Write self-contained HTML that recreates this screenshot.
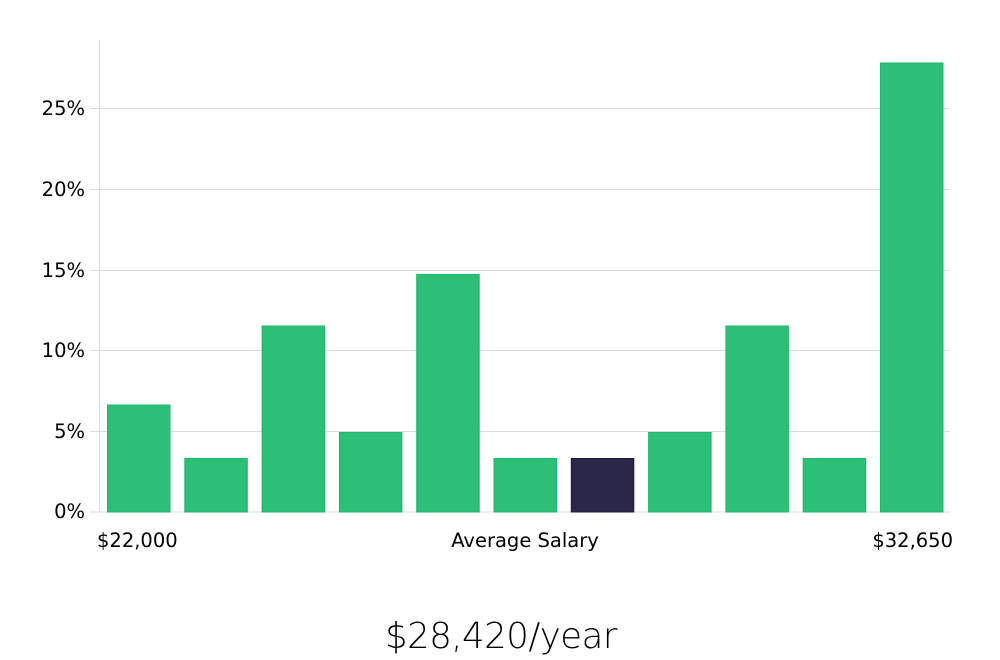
<!DOCTYPE html>
<html><head><meta charset="utf-8"><style>
html,body{margin:0;padding:0;background:#fff;}
svg{display:block;}
</style></head><body>
<svg width="1000" height="660" xmlns="http://www.w3.org/2000/svg" font-family="'DejaVu Sans','Liberation Sans',sans-serif">
<g stroke="#dcdcdc" stroke-width="1">
<line x1="99.5" y1="40" x2="99.5" y2="512"/>
<line x1="90" y1="108.5" x2="950" y2="108.5"/>
<line x1="90" y1="189.5" x2="950" y2="189.5"/>
<line x1="90" y1="270.5" x2="950" y2="270.5"/>
<line x1="90" y1="350.5" x2="950" y2="350.5"/>
<line x1="90" y1="431.5" x2="950" y2="431.5"/>
<line x1="90" y1="512" x2="950" y2="512"/>
</g>
<g font-size="19.5" fill="#000" text-anchor="end">
<text x="85" y="115">25%</text>
<text x="85" y="196">20%</text>
<text x="85" y="277">15%</text>
<text x="85" y="357">10%</text>
<text x="85" y="438">5%</text>
<text x="85" y="518">0%</text>
</g>
<g fill="#2bbf78" stroke="#22b56c" stroke-width="1">
<rect x="107.5" y="405" width="62.5" height="107"/>
<rect x="184.8" y="458.5" width="62.5" height="53.5"/>
<rect x="262.1" y="326" width="62.5" height="186"/>
<rect x="339.4" y="432.5" width="62.5" height="79.5"/>
<rect x="416.7" y="274.5" width="62.5" height="237.5"/>
<rect x="494" y="458.5" width="62.5" height="53.5"/>
<rect x="648.6" y="432.5" width="62.5" height="79.5"/>
<rect x="725.9" y="326" width="62.5" height="186"/>
<rect x="803.2" y="458.5" width="62.5" height="53.5"/>
<rect x="880.5" y="63" width="62.5" height="449"/>
</g>
<rect x="571.3" y="458.5" width="62.5" height="53.5" fill="#2a2748" stroke="#1f1c40" stroke-width="1"/>
<g font-size="19.5" fill="#000">
<text x="97" y="547">$22,000</text>
<text x="525" y="547" text-anchor="middle">Average Salary</text>
<text x="953" y="547" text-anchor="end">$32,650</text>
</g>
<text x="501" y="648" font-size="35.5" fill="#000" text-anchor="middle" font-weight="300" letter-spacing="-0.5">$28,420/year</text>
</svg>
</body></html>
